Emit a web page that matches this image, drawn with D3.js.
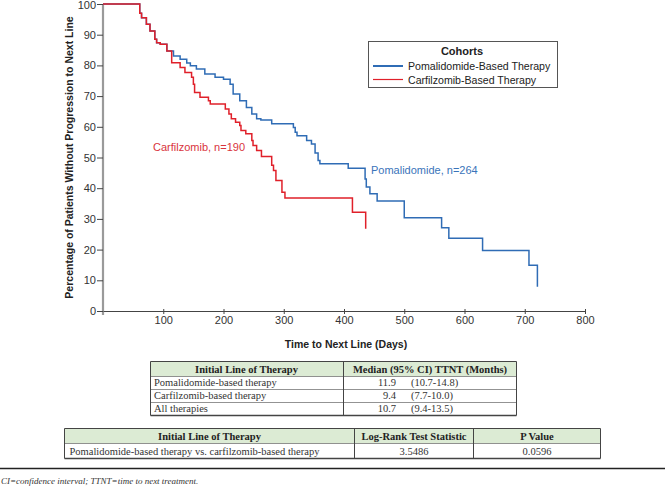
<!DOCTYPE html>
<html>
<head>
<meta charset="utf-8">
<script src="https://cdn.jsdelivr.net/npm/d3@7"></script>
<style>
  body { margin: 0; background: #fff; }
  svg text { font-family: "Liberation Sans", Arial, sans-serif; }
  .serif { font-family: "Liberation Serif", "DejaVu Serif", serif !important; }
</style>
</head>
<body>
<script>
const WIDTH = 665;
const HEIGHT = 488;

// Kaplan-Meier steps: [day, percent]
const pomaSteps = [
  [0,100],[61,97],[64,95.5],[72,93.4],[78,91.2],[86,88.5],[89,87.4],[95,86.9],[106,84.7],
  [117,83.1],[128,82],[139,80.8],[145,79.9],[155,78.8],[169,77.2],[186,76.1],[200,75.5],
  [211,73.9],[216,70.7],[227,68.5],[238,66.3],[247,64.2],[255,62.6],[262,62.2],[280,61],
  [316,59.8],[319,58.2],[322,57.1],[338,55.5],[346,54.4],[352,51.5],[357,49],[360,48],
  [407,46.5],[435,43],[437,40.4],[443,38.2],[455,35.8],[500,30.4],[562,27.1],[574,23.7],
  [630,19.7],[707,14.9],[721,7.9]
];
const carfSteps = [
  [0,100],[61,97],[64,95.5],[72,93.4],[78,91.2],[86,88.5],[89,87.4],[95,86.9],[106,84.7],
  [114,80.9],[128,79.3],[136,77.7],[147,76.1],[150,73.9],[152,71.2],[161,69.6],[175,68.5],
  [178,67.4],[203,65.8],[209,64.2],[213,62.6],[220,61.5],[227,60.4],[229,58.8],[237,57.7],
  [247,55.5],[249,53.9],[255,52.3],[263,50.3],[280,47.5],[283,45.8],[287,42.5],[297,38.7],
  [302,36.8],[414,32.2],[436,26.8]
];

const cohortNames = ["Pomalidomide-Based Therapy", "Carfilzomib-Based Therapy"];
const cohortColors = ["#2f6cb5", "#e0202a"];
const xTicks = [100,200,300,400,500,600,700,800];
const yTicks = [0,10,20,30,40,50,60,70,80,90,100];

const medianHeader = ["Initial Line of Therapy", "Median (95% CI) TTNT (Months)"];
const medianLines = ["Pomalidomide-based therapy", "Carfilzomib-based therapy", "All therapies"];
const medianValues = ["11.9", "9.4", "10.7"];
const medianCI = ["(10.7-14.8)", "(7.7-10.0)", "(9.4-13.5)"];

const logrankHeader = ["Initial Line of Therapy", "Log-Rank Test Statistic", "P Value"];
const logrankRow = ["Pomalidomide-based therapy vs. carfilzomib-based therapy", "3.5486", "0.0596"];

const footnote = "CI=confidence interval; TTNT=time to next treatment.";

let svg = d3.select("body").append("svg")
    .attr("width", WIDTH)
    .attr("height", HEIGHT);

let xscale = d3.scaleLinear().domain([0, 800]).range([103, 585]);
let yscale = d3.scaleLinear().domain([0, 100]).range([311, 4]);

// axes
let yAxisGroup = svg.append("g").attr("transform", "translate(103,0)");
yAxisGroup.call(d3.axisLeft(yscale).tickValues(yTicks).tickSize(6).tickSizeOuter(0));
yAxisGroup.select(".domain").attr("stroke", "#9a9a9a").attr("stroke-width", 2.2)
    .attr("d", "M0," + (yscale(100)) + "V" + (yscale(0) + 4));
yAxisGroup.selectAll(".tick line").attr("stroke", "#444");
yAxisGroup.selectAll(".tick text").attr("font-size", 11).attr("fill", "#333").attr("x", -7)
    .attr("dy", d => d === 100 ? "0.4em" : "0.32em");

let xAxisGroup = svg.append("g").attr("transform", "translate(0,311)");
xAxisGroup.call(d3.axisBottom(xscale).tickValues(xTicks).tickSize(3).tickSizeOuter(0));
xAxisGroup.select(".domain").attr("stroke", "#444");
xAxisGroup.selectAll(".tick line").attr("stroke", "#444").attr("y1", -2);
xAxisGroup.selectAll(".tick text").attr("font-size", 11).attr("fill", "#333").attr("y", 5);

svg.append("text")
    .attr("transform", "translate(73," + ((yscale(0) + yscale(100)) / 2) + ") rotate(-90)")
    .attr("text-anchor", "middle")
    .attr("font-size", 10.5).attr("font-weight", "bold").attr("fill", "#222")
    .text("Percentage of Patients Without Progression to Next Line");

svg.append("text")
    .attr("x", 346).attr("y", 348)
    .attr("text-anchor", "middle")
    .attr("font-size", 10.5).attr("font-weight", "bold").attr("fill", "#222")
    .text("Time to Next Line (Days)");

// curves
let line = d3.line()
    .x(d => xscale(d[0]))
    .y(d => yscale(d[1]))
    .curve(d3.curveStepAfter);

[pomaSteps, carfSteps].forEach((steps, i) => {
    svg.append("path")
        .datum(steps)
        .attr("fill", "none")
        .attr("stroke", cohortColors[i])
        .attr("stroke-width", 1.5)
        .attr("d", line);
});

svg.append("text").attr("x", 153).attr("y", 151)
    .attr("font-size", 11).attr("fill", "#d9343c").text("Carfilzomib, n=190");
svg.append("text").attr("x", 371).attr("y", 174)
    .attr("font-size", 11).attr("fill", "#3a74ba").text("Pomalidomide, n=264");

// legend
let legend = svg.append("g");
legend.append("rect").attr("x", 368.5).attr("y", 41.5).attr("width", 189).attr("height", 46)
    .attr("fill", "#fff").attr("stroke", "#555").attr("stroke-width", 1);
legend.append("text").attr("x", 462).attr("y", 55).attr("text-anchor", "middle")
    .attr("font-size", 11).attr("font-weight", "bold").attr("fill", "#222").text("Cohorts");
cohortNames.forEach((name, i) => {
    let ly = 66 + i * 13.5;
    legend.append("line").attr("x1", 373).attr("x2", 403).attr("y1", ly).attr("y2", ly)
        .attr("stroke", cohortColors[i]).attr("stroke-width", i === 0 ? 2 : 1.2);
    legend.append("text").attr("x", 408).attr("y", ly + 4)
        .attr("font-size", 10.6).attr("fill", "#222").text(name);
});

// table helper
function drawTable(x0, colEdges, y0, headH, rowH, nRows) {
    let g = svg.append("g");
    let x1 = colEdges[colEdges.length - 1];
    g.append("rect").attr("x", x0).attr("y", y0).attr("width", x1 - x0).attr("height", headH)
        .attr("fill", "#dcebd4");
    let bottom = y0 + headH + rowH * nRows;
    for (let r = 0; r <= nRows; r++) {
        let yy = y0 + headH + r * rowH;
        g.append("line").attr("x1", x0).attr("x2", x1).attr("y1", yy).attr("y2", yy)
            .attr("stroke", r === nRows ? "#444" : "#777").attr("stroke-width", r === nRows ? 1.3 : 0.8);
    }
    g.append("line").attr("x1", x0).attr("x2", x1).attr("y1", y0).attr("y2", y0)
        .attr("stroke", "#444").attr("stroke-width", 1);
    [x0].concat(colEdges).forEach(cx => {
        g.append("line").attr("x1", cx).attr("x2", cx).attr("y1", y0).attr("y2", bottom)
            .attr("stroke", "#444").attr("stroke-width", 1);
    });
    return g;
}

// median table
let t1 = drawTable(150.5, [343.5, 516.5], 361.5, 15, 13, 3);
t1.append("text").attr("class", "serif").attr("x", (150 + 343) / 2).attr("y", 372.5)
    .attr("text-anchor", "middle").attr("font-size", 10.5).attr("font-weight", "bold").attr("fill", "#222")
    .text(medianHeader[0]);
t1.append("text").attr("class", "serif").attr("x", (343 + 517) / 2).attr("y", 372.5)
    .attr("text-anchor", "middle").attr("font-size", 10.5).attr("font-weight", "bold").attr("fill", "#222")
    .text(medianHeader[1]);
medianLines.forEach((label, i) => {
    let ty = 386 + i * 13;
    t1.append("text").attr("class", "serif").attr("x", 154).attr("y", ty)
        .attr("font-size", 10.5).attr("fill", "#333").text(label);
    t1.append("text").attr("class", "serif").attr("x", 396).attr("y", ty).attr("text-anchor", "end")
        .attr("font-size", 10.5).attr("fill", "#333").text(medianValues[i]);
    t1.append("text").attr("class", "serif").attr("x", 411).attr("y", ty)
        .attr("font-size", 10.5).attr("fill", "#333").text(medianCI[i]);
});

// log-rank table
let t2Cols = [64.5, 354.5, 473.5, 600.5];
let t2 = drawTable(t2Cols[0], t2Cols.slice(1), 428.5, 15, 15, 1);
logrankHeader.forEach((h, i) => {
    t2.append("text").attr("class", "serif").attr("x", (t2Cols[i] + t2Cols[i + 1]) / 2).attr("y", 439.5)
        .attr("text-anchor", "middle").attr("font-size", 10.5).attr("font-weight", "bold").attr("fill", "#222")
        .text(h);
});
logrankRow.forEach((v, i) => {
    let tx = i === 0 ? t2Cols[0] + 5 : (t2Cols[i] + t2Cols[i + 1]) / 2;
    t2.append("text").attr("class", "serif").attr("x", tx).attr("y", 454.5)
        .attr("text-anchor", i === 0 ? "start" : "middle")
        .attr("font-size", 10.5).attr("fill", "#333").text(v);
});

// footnote
svg.append("line").attr("x1", 0).attr("x2", WIDTH).attr("y1", 468.5).attr("y2", 468.5)
    .attr("stroke", "#222").attr("stroke-width", 1.5);
svg.append("text").attr("class", "serif").attr("x", 1).attr("y", 484)
    .attr("font-size", 9).attr("font-style", "italic").attr("fill", "#333").text(footnote);
</script>
</body>
</html>
